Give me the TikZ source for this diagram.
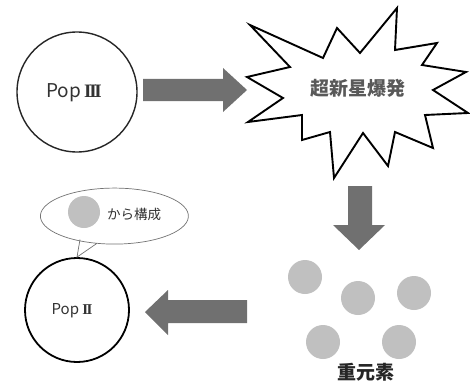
\documentclass[tikz,border=0pt]{standalone}
\usepackage{fontspec}
\setmainfont{Noto Sans CJK JP}
\newfontfamily\romfont{Liberation Serif}
\newcommand{\romnum}[1]{{\romfont\bfseries\addfontfeatures{LetterSpace=-12}#1}}
\begin{document}
\begin{tikzpicture}[x=1pt,y=-1pt,
  blockarrow/.style={fill=arrowgray,draw=none},
  ball/.style={circle,fill=ballgray,draw=none,minimum size=34pt,inner sep=0pt},
  popcircle/.style={circle,draw=black!85,inner sep=0pt},
  lbl/.style={text=black!80,inner sep=0pt}]
\definecolor{arrowgray}{RGB}{112,112,112}
\definecolor{ballgray}{RGB}{192,192,192}
\useasboundingbox (0,0) rectangle (470,385);
% Pop III
\node[popcircle,line width=1.4pt,minimum size=120pt] (p3) at (77,92) {};
\node[lbl,font=\fontsize{19}{19}\selectfont] (p3t) at (74,93) {Pop\,\romnum{III}};
% arrow right
\fill[blockarrow] (143,79) -- (223,79) -- (223,68) -- (247,90) -- (223,112) -- (223,101) -- (143,101) -- cycle;
% explosion
\draw[line width=1.9pt,line join=miter,fill=white]
 (250,25) -- (323,58) -- (337,28) -- (360,53) -- (397,8) -- (395,50) -- (437,43)
 -- (422,65) -- (466,72) -- (433,90) -- (468,113) -- (425,115) -- (433,148)
 -- (395,132) -- (388,166) -- (363,133) -- (334,178) -- (330,132) -- (302,140)
 -- (302,115) -- (248,122) -- (283,98) -- (247,77) -- (290,67) -- cycle;
\node[inner sep=0pt,text=black!65,font=\fontsize{19}{19}\selectfont\bfseries] (sn) at (358,88) {超新星爆発};
% arrow down
\fill[blockarrow] (348,186) -- (372,186) -- (372,225) -- (385,225) -- (359,250) -- (333,225) -- (348,225) -- cycle;
% heavy elements
\node[ball] (b1) at (305,277) {};
\node[ball] (b2) at (358,298) {};
\node[ball] (b3) at (414,293) {};
\node[ball] (b4) at (323,342) {};
\node[ball] (b5) at (399,342) {};
\node[lbl,text=black!85,font=\fontsize{19}{19}\selectfont\bfseries] (he) at (366,372) {重元素};
% arrow left
\fill[blockarrow] (247,300) -- (168,300) -- (168,290) -- (145,312) -- (168,335) -- (168,323) -- (247,323) -- cycle;
% Pop II
\node[popcircle,draw=black,line width=1.8pt,minimum size=104pt] (p2) at (77,310) {};
\node[lbl,font=\fontsize{15}{15}\selectfont] (p2t) at (72,311) {Pop \romnum{II}};
% speech bubble
\coordinate (tip) at (p2.north);
\draw[draw=black!55,line width=0.7pt,fill=white]
  (80,239.5) -- (tip) -- (97,243.3)
  arc[start angle=103.6,end angle=-256.4,x radius=74,y radius=28];
\node[ball,minimum size=32pt] (bb) at (84,212) {};
\node[lbl,font=\fontsize{13.5}{13.5}\selectfont] (kt) at (134,214) {から構成};
\end{tikzpicture}
\end{document}
